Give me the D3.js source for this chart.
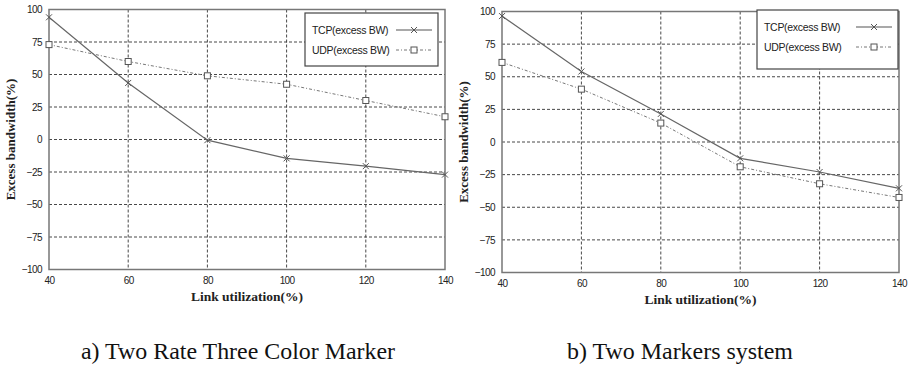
<!DOCTYPE html>
<html><head><meta charset="utf-8">
<script src="https://cdn.jsdelivr.net/npm/d3@7"></script>
<style>body{margin:0;background:#fff}svg{display:block}</style>
</head><body>
<svg id="c" width="910" height="366"></svg>
<script>
const xValues = [40, 60, 80, 100, 120, 140];
const yTicks = [-100, -75, -50, -25, 0, 25, 50, 75, 100];
const seriesNames = ["TCP(excess BW)", "UDP(excess BW)"];
const tcpA = [94, 43.5, -0.5, -14.5, -20.5, -27];
const udpA = [73, 60, 49, 42.5, 30, 17.5];
const tcpB = [96.5, 54, 21.5, -12.5, -23, -35.5];
const udpB = [61, 40.5, 14.5, -19, -32, -42.5];
const captions = ["a) Two Rate Three Color Marker", "b) Two Markers system"];
const xTitle = "Link utilization(%)";
const yTitle = "Excess bandwidth(%)";

const svg = d3.select("#c");

function panel(o) {
  const g = svg.append("g");
  const x = d3.scaleLinear().domain([40, 140]).range([o.x0, o.x1]);
  const y = d3.scaleLinear().domain([-100, 100]).range([o.y1, o.y0]);
  // grid
  g.append("g").selectAll("line.gy").data(yTicks.slice(1, -1)).join("line")
    .attr("x1", o.x0).attr("x2", o.x1).attr("y1", d => y(d)).attr("y2", d => y(d))
    .attr("stroke", "#333").attr("stroke-width", 0.9).attr("stroke-dasharray", "3,2");
  g.append("g").selectAll("line.gx").data(xValues.slice(1, -1)).join("line")
    .attr("y1", o.y0).attr("y2", o.y1).attr("x1", d => x(d)).attr("x2", d => x(d))
    .attr("stroke", "#333").attr("stroke-width", 0.9).attr("stroke-dasharray", "3,2");
  // frame
  g.append("rect").attr("x", o.x0).attr("y", o.y0).attr("width", o.x1 - o.x0).attr("height", o.y1 - o.y0)
    .attr("fill", "none").attr("stroke", "#777").attr("stroke-width", 1.5);
  // axes (ticks via d3 axes, no domain lines)
  const ya = d3.axisLeft(y).tickValues(yTicks).tickSize(0).tickPadding(7);
  const ga = g.append("g").attr("transform", `translate(${o.x0},0)`).call(ya);
  ga.select(".domain").remove();
  ga.selectAll("text").attr("font-family", "Liberation Sans Narrow, Liberation Sans, sans-serif")
    .attr("font-size", 10).attr("fill", "#222").attr("letter-spacing", "-0.6");
  const xa = d3.axisBottom(x).tickValues(xValues).tickSize(0).tickPadding(7);
  const gx = g.append("g").attr("transform", `translate(0,${o.y1})`).call(xa);
  gx.select(".domain").remove();
  gx.selectAll("text").attr("font-family", "Liberation Sans Narrow, Liberation Sans, sans-serif")
    .attr("font-size", 10).attr("fill", "#222").attr("letter-spacing", "-0.6");
  // titles
  g.append("text").attr("x", (o.x0 + o.x1) / 2).attr("y", o.y1 + 31).attr("text-anchor", "middle")
    .attr("font-family", "Liberation Serif, serif").attr("font-weight", "bold").attr("font-size", 13.5)
    .attr("fill", "#222").text(xTitle);
  g.append("text").attr("transform", `translate(${o.x0 - 34},${(o.y0 + o.y1) / 2}) rotate(-90)`)
    .attr("text-anchor", "middle")
    .attr("font-family", "Liberation Serif, serif").attr("font-weight", "bold").attr("font-size", 13)
    .attr("fill", "#222").text(yTitle);
  // lines
  const line = d3.line().x((d, i) => x(xValues[i])).y(d => y(d));
  g.append("path").datum(o.tcp).attr("d", line).attr("fill", "none").attr("stroke", "#666").attr("stroke-width", 1.2);
  g.append("path").datum(o.udp).attr("d", line).attr("fill", "none").attr("stroke", "#777").attr("stroke-width", 1)
    .attr("stroke-dasharray", "3,2,1,2");
  const cross = (sel, cx, cy) => {
    sel.append("path").attr("d", `M${cx - 3},${cy - 3}L${cx + 3},${cy + 3}M${cx - 3},${cy + 3}L${cx + 3},${cy - 3}`)
      .attr("stroke", "#555").attr("stroke-width", 1);
  };
  const square = (sel, cx, cy) => {
    sel.append("rect").attr("x", cx - 3).attr("y", cy - 3).attr("width", 6).attr("height", 6)
      .attr("fill", "#fff").attr("stroke", "#555").attr("stroke-width", 1);
  };
  o.tcp.forEach((v, i) => cross(g, x(xValues[i]), y(v)));
  o.udp.forEach((v, i) => square(g, x(xValues[i]), y(v)));
  // legend
  const L = o.legend;
  g.append("rect").attr("x", L.x).attr("y", L.y).attr("width", L.w).attr("height", L.h)
    .attr("fill", "#fff").attr("stroke", "#444").attr("stroke-width", 1.2);
  seriesNames.forEach((n, i) => {
    const ly = L.y + 17 + i * 20;
    g.append("text").attr("x", L.x + 7).attr("y", ly + 4)
      .attr("font-family", "Liberation Sans Narrow, Liberation Sans, sans-serif").attr("font-size", 10.5)
      .attr("fill", "#222").attr("letter-spacing", "-0.3").text(n);
    g.append("line").attr("x1", L.x + L.w - 42).attr("x2", L.x + L.w - 6).attr("y1", ly).attr("y2", ly)
      .attr("stroke", i ? "#777" : "#555").attr("stroke-width", i ? 1 : 1.2)
      .attr("stroke-dasharray", i ? "3,2,1,2" : null);
    if (i) square(g, L.x + L.w - 24, ly); else cross(g, L.x + L.w - 24, ly);
  });
  // caption
  svg.append("text").attr("x", o.capX).attr("y", 359).attr("text-anchor", "middle")
    .attr("font-family", "Liberation Serif, serif").attr("font-size", 23).attr("fill", "#111")
    .attr("textLength", o.capW).attr("lengthAdjust", "spacingAndGlyphs").text(o.caption);
}

panel({x0: 49, x1: 445, y0: 9.5, y1: 269.5, tcp: tcpA, udp: udpA,
  legend: {x: 305, y: 13, w: 133, h: 53}, caption: captions[0], capX: 238, capW: 314});
panel({x0: 502, x1: 899, y0: 11.5, y1: 272.5, tcp: tcpB, udp: udpB,
  legend: {x: 757, y: 10, w: 141, h: 59}, caption: captions[1], capX: 680, capW: 226});
</script>
</body></html>
